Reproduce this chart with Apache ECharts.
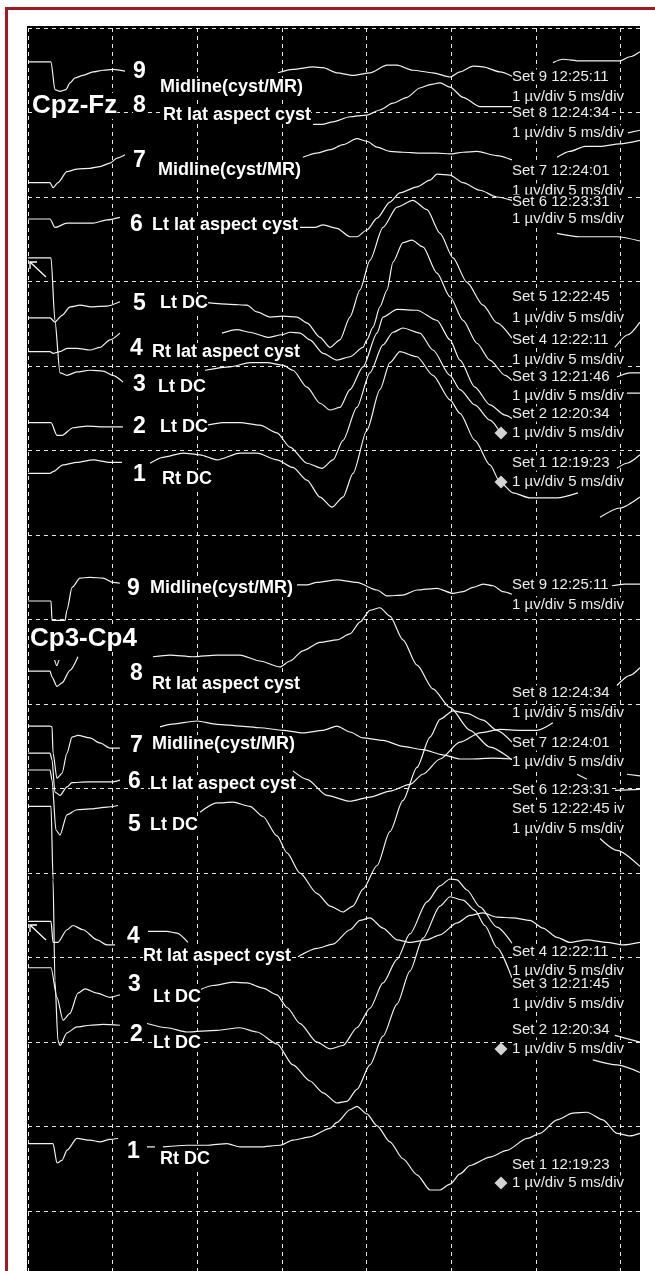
<!DOCTYPE html>
<html>
<head>
<meta charset="utf-8">
<script src="https://cdn.jsdelivr.net/npm/echarts@6/dist/echarts.min.js"></script>
<style>
  html, body { margin: 0; padding: 0; background: #fff; }
  #chart { width: 655px; height: 1271px; }
</style>
</head>
<body>
<div id="chart"></div>
<script>
// Time base: 5 ms per division; amplitude: 1 µV per division, counted downward from the top edge.
const timeAxis = { min: 0, max: 37.04, step: 5 };
const ampAxis = { min: 0, max: 14.72, step: 1 };

// ---- Cpz-Fz recordings: visible segments of [ms, µV] ----
const cpzSet9 = [
  [[0,0.40],[1.36,0.40],[1.59,0.73],[1.89,0.75],[2.24,0.73],[2.48,0.65],[2.78,0.59],[3.25,0.56],[3.84,0.52],[4.43,0.50],[5.02,0.49],[5.73,0.51]],
  [[14.77,0.53],[15.65,0.49],[16.84,0.46],[17.43,0.47],[18.25,0.53],[19.20,0.56],[20.20,0.53],[21.21,0.44],[21.80,0.44],[22.74,0.50],[23.92,0.53],[24.93,0.58],[25.52,0.52],[26.29,0.45],[26.88,0.46],[27.88,0.52],[28.59,0.57]],
  [[31.01,0.41],[31.60,0.37],[32.61,0.39],[34.97,0.39],[35.56,0.34],[36.15,0.28]]
];
const cpzSet8 = [
  [[16.84,1.14],[17.37,1.14],[18.02,1.11],[19.02,1.05],[20.02,1.03],[20.79,0.97],[21.56,0.89],[22.39,0.82],[23.15,0.71],[23.75,0.67],[24.34,0.65],[24.93,0.70],[25.70,0.82],[26.70,0.93],[27.47,0.93],[28.59,0.93]],
  [[35.44,1.24],[36.15,1.21]]
];
const cpzSet7 = [
  [[0,1.83],[1.30,1.83],[1.48,1.89],[1.77,1.83],[2.30,1.70],[2.89,1.67],[3.66,1.66],[4.25,1.64],[4.84,1.60],[5.26,1.54],[5.73,1.50]],
  [[16.24,1.53],[17.07,1.48],[17.84,1.44],[18.61,1.38],[19.43,1.31],[20.02,1.34],[20.62,1.41],[21.38,1.46],[22.15,1.47],[23.15,1.48],[24.16,1.48],[24.93,1.49],[25.70,1.47],[26.52,1.46],[27.70,1.51],[28.59,1.56]],
  [[31.25,1.53],[32.01,1.46],[32.90,1.40],[33.79,1.40],[34.97,1.37],[36.15,1.33]]
];
const cpzSet6 = [
  [[0,2.26],[1.30,2.26],[1.59,2.36],[2.30,2.31],[3.07,2.31],[3.84,2.31],[4.67,2.27],[5.43,2.24]],
  [[16.07,2.36],[16.95,2.36],[17.43,2.33],[18.25,2.37],[19.02,2.47],[19.43,2.47],[20.02,2.39],[20.62,2.25],[21.38,2.06],[21.97,1.95],[22.98,1.88],[23.75,1.80],[24.16,1.73],[24.93,1.74],[25.70,1.83],[26.70,1.92],[27.70,2.00],[28.59,2.04]],
  [[31.25,2.43],[32.61,2.47],[34.79,2.47],[36.15,2.52]]
];
const cpzSet5 = [
  [[0,3.43],[1.30,3.43],[1.59,3.48],[2.01,3.40],[2.48,3.30],[3.07,3.28],[3.84,3.30],[4.67,3.29],[5.43,3.24]],
  [[10.57,3.25],[11.93,3.27],[12.94,3.28],[13.53,3.36],[14.30,3.42],[15.06,3.41],[15.89,3.42],[16.48,3.49],[17.25,3.66],[17.84,3.78],[18.43,3.69],[19.02,3.42],[19.61,3.10],[20.20,2.75],[20.97,2.36],[21.80,2.12],[22.74,2.04],[23.57,2.15],[24.34,2.43],[25.11,2.72],[25.93,3.01],[26.88,3.28],[27.70,3.49],[28.59,3.67]],
  [[34.67,3.78],[35.44,3.63],[36.15,3.48]]
];
const cpzSet4 = [
  [[0,3.83],[1.30,3.83],[1.48,3.85],[1.89,3.83],[2.30,3.79],[2.89,3.79],[3.66,3.81],[4.25,3.78],[4.84,3.69],[5.43,3.61]],
  [[11.46,3.61],[12.35,3.57],[13.11,3.60],[14.18,3.66],[15.00,3.63],[15.48,3.60],[16.07,3.61],[16.66,3.69],[17.43,3.85],[18.25,3.93],[19.02,3.89],[19.79,3.78],[20.02,3.69],[20.38,3.54],[20.79,3.30],[21.21,3.10],[21.56,2.77],[22.15,2.54],[22.68,2.51],[23.33,2.59],[24.16,2.90],[24.93,3.18],[25.70,3.46],[26.52,3.73],[27.29,3.93],[28.18,4.11],[28.59,4.17]],
  [[34.79,4.13],[35.56,4.08],[36.15,4.08]]
];
const cpzSet3 = [
  [[0,2.72],[1.36,2.72],[1.59,3.46],[1.89,4.08],[2.30,4.11],[2.89,4.07],[3.66,4.05],[4.43,4.06],[5.02,4.11],[5.61,4.19]],
  [[10.46,4.05],[11.93,4.01],[13.11,3.96],[14.12,3.96],[15.06,3.99],[15.65,4.05],[16.48,4.25],[17.25,4.44],[17.84,4.52],[18.43,4.49],[19.02,4.28],[19.79,4.01],[20.62,3.61],[20.97,3.42],[21.80,3.33],[22.98,3.34],[24.16,3.46],[24.93,3.69],[25.52,3.93],[26.40,4.25],[27.29,4.46],[28.18,4.58],[28.59,4.62]],
  [[35.38,4.32],[36.15,4.32]]
];
const cpzSet2 = [
  [[0,4.67],[1.36,4.67],[1.71,4.82],[2.01,4.82],[2.66,4.73],[3.49,4.71],[4.25,4.72],[5.61,4.72]],
  [[10.57,4.70],[11.52,4.67],[12.52,4.67],[13.70,4.70],[14.71,4.79],[15.48,4.96],[16.48,5.15],[17.37,5.21],[18.02,5.11],[18.61,4.88],[19.43,4.49],[20.20,4.08],[20.97,3.75],[21.56,3.60],[22.15,3.55],[23.15,3.61],[23.92,3.81],[24.93,4.11],[25.52,4.28],[26.40,4.46],[27.29,4.64],[27.88,4.78]],
  [[33.79,5.79],[34.97,5.68],[36.15,5.55]]
];
const cpzSet1 = [
  [[0,5.27],[1.30,5.27],[1.48,5.25],[2.07,5.17],[2.89,5.14],[3.84,5.11],[4.84,5.14],[5.55,5.14]],
  [[7.21,5.15],[7.97,5.08],[9.16,5.03],[10.16,5.05],[11.16,5.11],[12.52,5.03],[13.53,5.03],[14.71,5.11],[15.65,5.20],[16.48,5.35],[17.25,5.55],[17.96,5.67],[18.61,5.55],[19.20,5.27],[20.02,4.76],[20.79,4.28],[21.38,3.96],[21.97,3.83],[22.98,3.89],[23.92,4.11],[24.93,4.40],[25.52,4.56],[26.40,4.88],[27.29,5.17],[27.88,5.37],[28.65,5.50],[29.65,5.56],[31.25,5.56],[32.49,5.50]],
  [[34.79,5.21],[35.38,5.15],[36.15,5.05]]
];

// ---- Cp3-Cp4 recordings ----
const cp3Set9 = [
  [[0,6.78],[1.36,6.78],[1.42,7.01],[2.19,7.01],[2.30,6.89],[2.60,6.62],[3.07,6.51],[3.66,6.50],[4.43,6.51],[5.02,6.56],[5.43,6.57]],
  [[15.89,6.59],[16.48,6.59],[17.07,6.56],[18.25,6.53],[19.43,6.56],[20.62,6.65],[21.21,6.72],[22.15,6.71],[22.98,6.65],[24.16,6.63],[25.11,6.69],[25.70,6.67],[26.29,6.62],[26.88,6.58],[27.47,6.60],[28.06,6.67],[28.59,6.70]],
  [[34.50,6.60],[35.26,6.58],[36.15,6.58]]
];
const cp3Set8 = [
  [[0,7.61],[1.30,7.61],[1.42,7.68],[1.71,7.79],[2.01,7.75],[2.48,7.60],[2.95,7.44]],
  [[7.38,7.44],[8.39,7.42],[9.75,7.44],[11.16,7.42],[12.52,7.42],[13.70,7.49],[14.89,7.56],[15.48,7.49],[16.24,7.37],[17.25,7.27],[18.25,7.24],[19.02,7.17],[19.61,7.03],[20.20,6.89],[20.79,6.86],[21.38,6.96],[22.15,7.24],[22.98,7.54],[23.92,7.82],[24.93,8.04],[26.11,8.31],[27.29,8.51],[28.59,8.66]],
  [[33.79,9.59],[34.79,9.73],[36.15,9.92]]
];
const cp3Set7 = [
  [[0,8.26],[1.30,8.26],[1.42,8.27],[1.48,8.58],[1.71,8.88],[2.01,8.82],[2.30,8.58],[2.60,8.39],[2.95,8.37],[3.66,8.40],[4.25,8.46],[4.84,8.52],[5.43,8.52]],
  [[7.80,8.27],[8.39,8.24],[9.98,8.20],[11.16,8.24],[12.52,8.26],[13.70,8.28],[15.06,8.31],[16.24,8.34],[17.43,8.31],[18.25,8.26],[19.02,8.33],[19.79,8.40],[20.97,8.43],[22.15,8.50],[23.33,8.54],[24.51,8.60],[25.52,8.65],[26.11,8.65],[27.47,8.64],[28.59,8.65]],
  [[32.43,8.83],[33.02,8.89]],
  [[35.38,8.83],[36.15,8.85]]
];
const cp3Set6 = [
  [[0,8.58],[1.30,8.58],[1.42,8.66],[1.59,9.04],[1.89,9.08],[2.30,8.98],[2.60,8.93],[3.49,8.92],[4.25,8.92],[5.02,8.92],[5.43,8.90]],
  [[15.65,8.79],[16.48,8.89],[17.66,9.08],[19.02,9.15],[20.20,9.10],[21.38,9.03],[22.56,8.95],[23.33,8.83],[24.34,8.65],[25.52,8.45],[26.70,8.34],[27.88,8.30],[29.06,8.31],[30.07,8.31],[31.01,8.22]],
  [[34.79,7.78],[35.56,7.66],[36.15,7.57]]
];
const cp3Set5 = [
  [[0,8.78],[1.30,8.78],[1.42,8.90],[1.65,9.49],[1.89,9.55],[2.30,9.31],[2.89,9.25],[3.66,9.24],[4.67,9.22],[5.32,9.20]],
  [[10.16,9.28],[11.16,9.17],[12.11,9.16],[13.11,9.21],[13.88,9.33],[14.71,9.56],[15.30,9.76],[16.07,10.00],[17.07,10.24],[17.84,10.39],[18.61,10.46],[19.20,10.39],[19.79,10.19],[20.62,9.91],[21.38,9.51],[22.15,9.14],[22.98,8.75],[23.75,8.39],[24.34,8.18],[25.11,8.08],[25.93,8.11],[26.88,8.19],[27.70,8.31],[28.59,8.45]],
  [[34.67,9.02],[36.15,9.01]]
];
const cp3Set4 = [
  [[0,10.57],[1.36,10.57],[1.48,10.82],[1.77,10.82],[2.30,10.67],[2.66,10.62],[3.25,10.67],[4.08,10.79],[4.67,10.85],[5.14,10.85]],
  [[7.09,10.69],[8.21,10.69],[8.80,10.71],[9.45,10.82]],
  [[15.95,10.99],[17.07,10.89],[18.02,10.84],[19.02,10.67],[19.61,10.56],[20.20,10.53],[20.97,10.65],[21.80,10.79],[22.56,10.82],[23.57,10.79],[24.34,10.73],[25.34,10.59],[26.11,10.50],[26.88,10.47],[27.70,10.52],[28.65,10.53],[29.65,10.56],[30.42,10.65],[31.25,10.76],[32.01,10.82],[33.02,10.79],[34.20,10.82],[35.15,10.85],[36.15,10.82]]
];
const cp3Set3 = [
  [[0,11.12],[1.36,11.12],[1.71,11.47],[2.07,11.74],[2.48,11.66],[2.95,11.42],[3.37,11.37],[4.08,11.42],[4.84,11.47],[5.43,11.44]],
  [[10.16,11.38],[10.93,11.33],[12.11,11.29],[12.94,11.30],[13.88,11.36],[14.71,11.44],[15.30,11.59],[16.07,11.78],[17.07,12.00],[17.84,12.08],[18.61,12.04],[19.43,11.83],[20.20,11.60],[20.97,11.30],[21.80,11.02],[22.56,10.72],[23.57,10.34],[24.34,10.15],[24.93,10.07],[25.34,10.08],[25.93,10.20],[26.70,10.40],[27.70,10.64],[28.59,10.83]],
  [[34.67,11.92],[36.15,12.00]]
];
const cp3Set2 = [
  [[0,9.21],[1.36,9.21],[1.48,10.08],[1.59,11.27],[1.77,11.98],[1.89,12.04],[2.30,11.89],[2.89,11.82],[3.66,11.80],[4.43,11.79],[5.43,11.80]],
  [[7.03,11.78],[8.21,11.83],[9.39,11.88],[11.16,11.86],[12.52,11.83],[13.53,11.88],[14.71,12.02],[15.65,12.27],[16.66,12.46],[17.43,12.60],[18.25,12.72],[18.84,12.70],[19.43,12.56],[20.20,12.27],[20.97,11.93],[21.80,11.55],[22.56,11.16],[23.33,10.77],[24.34,10.39],[24.93,10.28],[25.70,10.32],[26.40,10.44],[26.99,10.62],[27.70,10.88],[28.59,11.24]],
  [[33.37,12.21],[34.79,12.27],[36.15,12.36]]
];
const cp3Set1 = [
  [[0,13.20],[1.30,13.20],[1.48,13.20],[1.71,13.43],[2.01,13.40],[2.30,13.28],[2.89,13.14],[3.66,13.16],[4.25,13.18],[4.84,13.15],[5.32,13.14]],
  [[7.03,13.24],[7.50,13.24]],
  [[7.97,13.24],[9.39,13.22],[10.57,13.22],[11.76,13.20],[12.52,13.24],[13.70,13.24],[14.89,13.22],[15.65,13.16],[16.66,13.12],[17.84,13.02],[18.25,12.95],[19.02,12.80],[19.43,12.76],[20.02,12.85],[20.62,12.99],[21.38,13.18],[22.15,13.38],[22.98,13.57],[23.75,13.75],[24.34,13.75],[24.93,13.68],[25.52,13.56],[26.11,13.46],[27.29,13.36],[28.29,13.28],[29.48,13.14],[30.24,13.08],[31.25,12.92],[32.19,12.84],[33.02,12.83],[33.96,12.92],[34.79,13.08],[35.56,13.11],[36.15,13.08]]
];

// Montage titles, set numbers and electrode-site notes
const montageTitles = ['Cpz-Fz', 'Cp3-Cp4'];
const setNotesUpper = ['Midline(cyst/MR)', 'Rt lat aspect cyst', 'Midline(cyst/MR)', 'Lt lat aspect cyst', 'Lt DC', 'Rt lat aspect cyst', 'Lt DC', 'Lt DC', 'Rt DC'];
const setNotesLower = ['Midline(cyst/MR)', 'Rt lat aspect cyst', 'Midline(cyst/MR)', 'Lt lat aspect cyst', 'Lt DC', 'Rt lat aspect cyst', 'Lt DC', 'Lt DC', 'Rt DC'];
const setTimesUpper = ['Set 9 12:25:11', 'Set 8 12:24:34', 'Set 7 12:24:01', 'Set 6 12:23:31', 'Set 5 12:22:45', 'Set 4 12:22:11', 'Set 3 12:21:46', 'Set 2 12:20:34', 'Set 1 12:19:23'];
const setTimesLower = ['Set 9 12:25:11', 'Set 8 12:24:34', 'Set 7 12:24:01', 'Set 6 12:23:31', 'Set 5 12:22:45 iv', 'Set 4 12:22:11', 'Set 3 12:21:45', 'Set 2 12:20:34', 'Set 1 12:19:23'];
const gainNote = '1 µv/div 5 ms/div';

const traces = [
  ['Cpz-Fz Set 9', cpzSet9], ['Cpz-Fz Set 8', cpzSet8], ['Cpz-Fz Set 7', cpzSet7],
  ['Cpz-Fz Set 6', cpzSet6], ['Cpz-Fz Set 5', cpzSet5], ['Cpz-Fz Set 4', cpzSet4],
  ['Cpz-Fz Set 3', cpzSet3], ['Cpz-Fz Set 2', cpzSet2], ['Cpz-Fz Set 1', cpzSet1],
  ['Cp3-Cp4 Set 9', cp3Set9], ['Cp3-Cp4 Set 8', cp3Set8], ['Cp3-Cp4 Set 7', cp3Set7],
  ['Cp3-Cp4 Set 6', cp3Set6], ['Cp3-Cp4 Set 5', cp3Set5], ['Cp3-Cp4 Set 4', cp3Set4],
  ['Cp3-Cp4 Set 3', cp3Set3], ['Cp3-Cp4 Set 2', cp3Set2], ['Cp3-Cp4 Set 1', cp3Set1]
];

const TRACE_COLOR = '#f2f2f2';
const FONT = '"Liberation Sans", Arial, Helvetica, sans-serif';

const series = [];
traces.forEach(([name, segs]) => {
  segs.forEach(seg => {
    series.push({
      type: 'line', name, data: seg, symbol: 'none', showSymbol: false,
      smooth: 0.25, smoothMonotone: 'x', silent: true, animation: false, z: 2,
      lineStyle: { color: TRACE_COLOR, width: 1.2 }
    });
  });
});

// ---- annotation layout ----
function tag(text, x, y, font, fill, z) {
  return {
    type: 'text', x, y, z: z || 100, silent: true,
    style: {
      text, font, fill: fill || '#ffffff', backgroundColor: '#000',
      verticalAlign: 'middle', textVerticalAlign: 'middle', align: 'left', textAlign: 'left'
    }
  };
}
const numFont = 'bold 23px ' + FONT;
const noteFont = 'bold 18px ' + FONT;
const titleFont = 'bold 26px ' + FONT;
const sideFont = '15px ' + FONT;

const graphics = [];
// black recording area
graphics.push({ type: 'rect', z: -10, silent: true, shape: { x: 27, y: 26, width: 613, height: 1245 }, style: { fill: '#000' } });

// left-hand set numbers and notes
const upperNums = [[133, 72], [133, 106], [133, 161], [130, 225], [133, 304], [130, 349], [133, 385], [133, 427], [133, 475]];
const upperNotePos = [[160, 87], [163, 115], [158, 170], [152, 225], [160, 303], [152, 352], [158, 387], [160, 427], [162, 479]];
const lowerNums = [[127, 589], [130, 674], [130, 746], [128, 782], [128, 825], [127, 937], [128, 985], [130, 1035], [127, 1152]];
const lowerNotePos = [[150, 588], [152, 684], [152, 744], [150, 784], [150, 825], [143, 956], [153, 997], [153, 1043], [160, 1159]];
const setNumbers = ['9', '8', '7', '6', '5', '4', '3', '2', '1'];

setNumbers.forEach((n, i) => {
  graphics.push(tag(setNotesUpper[i], upperNotePos[i][0], upperNotePos[i][1], noteFont));
  graphics.push(tag(n, upperNums[i][0], upperNums[i][1], numFont));
  graphics.push(tag(setNotesLower[i], lowerNotePos[i][0], lowerNotePos[i][1], noteFont));
  graphics.push(tag(n, lowerNums[i][0], lowerNums[i][1], numFont));
});
graphics.push(tag(montageTitles[0], 32, 106, titleFont));
graphics.push(tag(montageTitles[1], 30, 639, titleFont));
graphics.push({ type: 'text', x: 54, y: 663, z: 100, silent: true, style: { text: 'v', font: '11px ' + FONT, fill: '#ffffff', verticalAlign: 'middle', textVerticalAlign: 'middle' } });

// stimulus-marker arrows
[[30, 262], [30, 925]].forEach(([ax, ay]) => {
  graphics.push({ type: 'polyline', z: 100, silent: true, shape: { points: [[ax, ay], [ax + 16, ay + 15]] }, style: { stroke: '#fff', lineWidth: 1.3, fill: null } });
  graphics.push({ type: 'polyline', z: 100, silent: true, shape: { points: [[ax, ay + 7], [ax, ay], [ax + 7, ay]] }, style: { stroke: '#fff', lineWidth: 1.3, fill: null } });
});

// right-hand set times and gain notes; later entries overlap earlier ones
const sideX = 512;
const upperSide = [
  [setTimesUpper[0], 77], [gainNote, 97], [setTimesUpper[1], 113], [gainNote, 133],
  [setTimesUpper[2], 171], [gainNote, 191], [setTimesUpper[3], 202], [gainNote, 219],
  [setTimesUpper[4], 297], [gainNote, 318], [setTimesUpper[5], 340], [gainNote, 360],
  [setTimesUpper[6], 377], [gainNote, 396], [setTimesUpper[7], 414], [gainNote, 433],
  [setTimesUpper[8], 463], [gainNote, 482]
];
const lowerSide = [
  [setTimesLower[0], 585], [gainNote, 605], [setTimesLower[1], 693], [gainNote, 713],
  [setTimesLower[2], 743], [gainNote, 762], [setTimesLower[3], 790], [setTimesLower[4], 809],
  [gainNote, 829], [setTimesLower[5], 952], [gainNote, 971], [setTimesLower[6], 984],
  [gainNote, 1004], [setTimesLower[7], 1030], [gainNote, 1049], [setTimesLower[8], 1165],
  [gainNote, 1183]
];
upperSide.concat(lowerSide).forEach(([t, y], i) => {
  graphics.push(tag(t, sideX, y, sideFont, '#ececec', 110 + i));
});
// cursor diamonds beside the gain notes of sets 2 and 1
[433, 482, 1049, 1183].forEach(y => {
  graphics.push({ type: 'polygon', z: 140, silent: true, shape: { points: [[501, y - 6.5], [507.5, y], [501, y + 6.5], [494.5, y]] }, style: { fill: '#d4d4d4' } });
});

// page margin on the right and the dark red frame
graphics.push({ type: 'rect', z: 150, silent: true, shape: { x: 640, y: 0, width: 15, height: 1271 }, style: { fill: '#ffffff' } });
graphics.push({ type: 'rect', z: 160, silent: true, shape: { x: 5, y: 7, width: 650, height: 3 }, style: { fill: '#a3191f' } });
graphics.push({ type: 'rect', z: 160, silent: true, shape: { x: 5, y: 7, width: 3, height: 1264 }, style: { fill: '#a3191f' } });

const chart = echarts.init(document.getElementById('chart'), null, { renderer: 'canvas' });
chart.setOption({
  backgroundColor: '#ffffff',
  animation: false,
  grid: {
    left: 28, top: 28, width: 627, height: 1244, show: true, backgroundColor: '#000', borderWidth: 0,
    containLabel: false, outerBoundsMode: 'none'
  },
  xAxis: {
    type: 'value', min: timeAxis.min, max: timeAxis.max, interval: timeAxis.step,
    axisLine: { show: false }, axisTick: { show: false }, axisLabel: { show: false },
    splitLine: { show: true, lineStyle: { color: '#e6e6e6', width: 1, type: [4, 4] } }
  },
  yAxis: {
    type: 'value', inverse: true, min: ampAxis.min, max: ampAxis.max, interval: ampAxis.step,
    axisLine: { show: false }, axisTick: { show: false }, axisLabel: { show: false },
    splitLine: { show: true, lineStyle: { color: '#e6e6e6', width: 1, type: [4, 4] } }
  },
  graphic: { elements: graphics },
  series
});
</script>
</body>
</html>
